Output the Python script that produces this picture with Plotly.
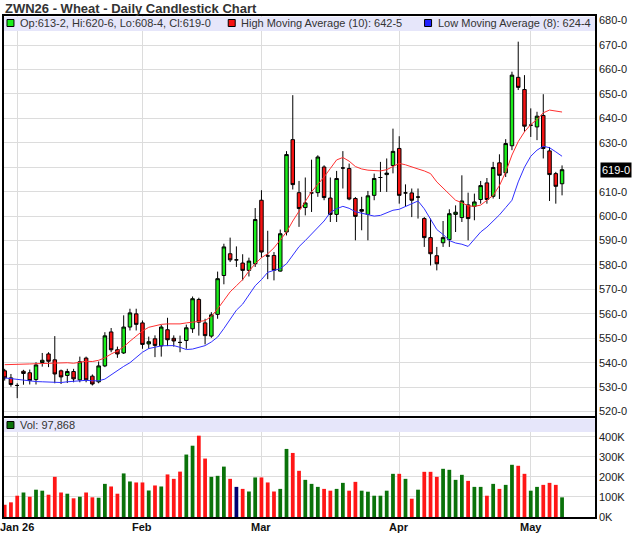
import plotly.graph_objects as go

# ZWN26 daily bars, 30 Dec 2025 .. 8 May 2026 (one entry per trading day)
opens = [
    536.7, 533.8, 530.7, 536.5, 535.9, 533.1, 540.1, 543.6, 541.2, 536.7,
    534.8, 536.4, 533.0, 541.9, 534.5, 532.2, 538.7, 552.6, 545.3, 544.0,
    554.6, 560.0, 556.3, 547.7, 549.8, 546.9, 553.5, 550.0, 548.3, 549.1,
    553.9, 565.9, 556.3, 550.9, 559.8, 575.7, 584.6, 582.1, 580.8, 577.8,
    580.5, 606.5, 583.7, 583.9, 577.5, 593.5, 631.3, 609.6, 603.5, 609.5,
    609.6, 620.1, 607.4, 600.7, 619.7, 619.5, 607.2, 602.7, 600.7, 608.5,
    615.8, 617.0, 620.7, 627.7, 609.5, 609.5, 607.8, 599.0, 591.2, 583.8,
    589.1, 590.4, 600.7, 599.4, 604.6, 604.0, 606.8, 613.6, 608.1, 621.8,
    617.7, 628.8, 656.8, 651.8, 637.2, 636.5, 641.2, 626.7, 617.4, 613.25,
]
highs = [
    537.5, 535.4, 531.6, 537.1, 537.2, 540.2, 544.0, 544.3, 550.9, 537.2,
    537.5, 537.5, 542.5, 542.5, 535.2, 540.5, 552.5, 554.2, 546.6, 559.4,
    562.1, 562.1, 557.3, 550.7, 551.2, 555.5, 558.4, 551.2, 551.1, 555.6,
    567.1, 566.6, 558.0, 560.7, 577.3, 588.7, 591.2, 587.6, 584.4, 583.0,
    603.3, 610.6, 594.0, 585.3, 594.5, 626.6, 649.5, 614.4, 615.8, 623.1,
    624.9, 620.8, 615.8, 618.5, 626.6, 621.5, 607.8, 607.9, 610.3, 617.4,
    622.2, 623.6, 635.8, 632.7, 613.0, 611.3, 611.3, 599.6, 599.0, 587.4,
    598.0, 602.8, 604.4, 616.7, 609.6, 609.2, 614.4, 615.6, 622.2, 625.3,
    631.5, 659.1, 671.4, 657.7, 644.1, 642.7, 649.9, 628.3, 618.1, 620.75,
]
lows = [
    532.7, 530.2, 525.5, 531.0, 531.1, 531.1, 538.4, 538.2, 531.6, 531.3,
    531.7, 532.0, 532.0, 532.0, 530.7, 531.6, 538.2, 544.3, 542.0, 543.6,
    553.2, 553.2, 545.7, 545.7, 542.3, 542.5, 546.8, 546.6, 544.3, 545.7,
    552.2, 551.1, 547.5, 550.2, 558.0, 572.1, 581.2, 579.2, 573.7, 575.3,
    579.2, 583.0, 574.2, 573.7, 577.3, 592.1, 610.9, 595.6, 600.3, 601.7,
    607.9, 606.5, 597.6, 597.6, 611.3, 606.5, 590.1, 594.2, 590.1, 606.5,
    609.9, 609.9, 617.5, 605.1, 603.8, 599.6, 599.0, 587.4, 579.8, 577.8,
    587.4, 587.4, 593.5, 597.6, 590.1, 598.3, 605.1, 605.1, 607.2, 607.0,
    616.0, 627.0, 651.6, 634.5, 632.4, 631.1, 623.6, 606.2, 605.1, 608.5,
]
closes = [
    533.8, 531.1, 530.7, 535.6, 532.7, 539.1, 541.0, 540.6, 535.4, 534.2,
    536.4, 533.4, 540.4, 533.0, 531.3, 538.7, 551.0, 545.3, 543.6, 554.6,
    560.4, 555.7, 547.5, 548.6, 547.1, 554.6, 549.4, 548.9, 548.3, 554.3,
    566.2, 556.6, 551.1, 559.6, 574.4, 587.4, 582.1, 582.1, 577.8, 581.6,
    598.6, 585.3, 583.7, 577.8, 592.8, 625.2, 612.9, 603.1, 605.4, 609.5,
    624.2, 607.6, 600.7, 615.4, 619.7, 607.0, 599.9, 602.0, 608.3, 615.4,
    615.8, 617.6, 626.5, 608.5, 609.5, 606.5, 607.8, 591.2, 584.6, 580.5,
    591.2, 601.0, 601.6, 606.2, 599.0, 605.8, 612.5, 606.8, 619.9, 616.7,
    629.7, 657.7, 652.7, 636.8, 637.2, 640.9, 627.7, 617.0, 612.2, 619.0,
]
high_ma10 = [
    539.2, 539.2, 539.3, 539.5, 539.5, 539.6, 539.7, 539.8, 539.9, 540.0,
    540.0, 539.8, 540.3, 540.6, 540.5, 541.0, 542.0, 543.6, 544.8, 546.5,
    548.8, 551.0, 553.0, 554.5, 555.2, 555.7, 555.9, 555.9, 555.9, 556.3,
    556.5, 556.8, 557.2, 559.0, 562.0, 565.5, 569.0, 571.5, 574.0, 577.5,
    580.5, 583.0, 584.6, 587.0, 590.5, 593.5, 598.0, 602.0, 606.0, 610.0,
    613.0, 616.0, 619.5, 623.0, 624.0, 622.5, 620.3, 619.3, 618.8, 618.6,
    618.5, 619.0, 620.4, 621.6, 621.0, 620.0, 619.3, 618.5, 617.4, 614.0,
    611.5, 609.0, 606.5, 605.5, 604.2, 604.0, 604.5, 606.5, 608.5, 612.5,
    618.0, 625.0, 630.5, 634.5, 637.5, 639.5, 642.3, 643.4, 643.0, 642.6,
]
low_ma8 = [
    533.8, 533.5, 533.0, 532.7, 532.5, 532.3, 532.2, 532.0, 531.9, 531.9,
    532.2, 532.5, 532.7, 532.8, 532.6, 532.6, 533.3, 535.0, 537.0, 538.5,
    540.0, 542.0, 544.3, 545.8, 546.4, 546.9, 547.0, 547.0, 546.3, 545.4,
    545.6, 546.2, 547.0, 548.5, 550.5, 554.0, 558.0, 561.5, 564.0, 567.5,
    571.5, 574.0, 577.0, 577.8, 578.5, 580.5, 584.0, 587.5, 590.0, 592.8,
    595.5, 598.0, 601.5, 603.0, 604.0, 603.2, 601.8, 601.3, 600.5, 600.0,
    600.3, 601.5, 602.4, 602.8, 604.0, 605.2, 606.2, 603.0, 599.0, 594.5,
    592.5, 590.0, 589.0, 588.5, 587.6, 590.5, 593.5, 595.5, 598.0, 600.5,
    603.5, 606.5, 614.0, 620.0, 624.5, 627.0, 628.6, 628.0, 626.3, 624.5,
]
volume_k = [
    61, 73, 106, 122, 101, 136, 131, 111, 200, 122,
    116, 93, 101, 122, 98, 96, 165, 152, 116, 217,
    177, 172, 172, 132, 157, 152, 212, 190, 226, 311,
    355, 405, 291, 200, 205, 251, 190, 150, 140, 127,
    197, 197, 172, 127, 140, 339, 319, 230, 185, 165,
    150, 140, 131, 140, 170, 131, 175, 131, 126, 106,
    106, 131, 215, 215, 190, 91, 136, 225, 225, 200,
    240, 235, 185, 210, 180, 150, 150, 106, 165, 140,
    160, 260, 255, 215, 131, 150, 160, 170, 160, 97.868,
]
month_pos = [2, 22, 41, 63, 84]
month_labels = ["Jan 26", "Feb", "Mar", "Apr", "May"]
price_ticks = list(range(520, 690, 10))
vol_ticks = [0, 100, 200, 300, 400]

W, H = 640, 536
L, R, T, B = 2, 45, 16, 19
PW, PH = W - L - R, H - T - B
FONT = "Arial, Liberation Sans, sans-serif"


def px_x(x):
    return (x - L) / PW


def px_y(y):
    return (H - B - y) / PH


def fmt_price(p):
    whole = int(p)
    eighths = int(round((p - whole) * 8))
    return f"{whole}-{eighths}"


idx = list(range(len(closes)))
volume = [v * 1000 for v in volume_k]

vol_colors = []
for i, c in enumerate(closes):
    prev = closes[i - 1] if i > 0 else c + 1
    if c > prev:
        vol_colors.append("#0a720a")
    elif c < prev:
        vol_colors.append("#ff1616")
    else:
        vol_colors.append("#000070")

fig = go.Figure()
fig.add_trace(go.Candlestick(
    x=idx, open=opens, high=highs, low=lows, close=closes,
    increasing=dict(fillcolor="#1aee1a", line=dict(color="black", width=1)),
    decreasing=dict(fillcolor="#f51212", line=dict(color="black", width=1)),
    whiskerwidth=0, xaxis="x", yaxis="y", hoverinfo="skip",
))
fig.add_trace(go.Scatter(x=idx, y=high_ma10, mode="lines",
                         line=dict(color="#ff3030", width=1), hoverinfo="skip"))
fig.add_trace(go.Scatter(x=idx, y=low_ma8, mode="lines",
                         line=dict(color="#3030ff", width=1), hoverinfo="skip"))
fig.add_trace(go.Bar(x=idx, y=volume, marker=dict(color=vol_colors, line=dict(width=0)),
                     width=0.6, xaxis="x2", yaxis="y2", hoverinfo="skip"))

xrange = [-0.11, 94.26]
axis_common = dict(showline=True, linecolor="black", linewidth=1.5, mirror=True,
                   showgrid=True, gridcolor="#dcdcdc", gridwidth=1, zeroline=False)

fig.update_layout(
    width=W, height=H,
    margin=dict(l=L, r=R, t=T, b=B),
    paper_bgcolor="white", plot_bgcolor="white",
    font=dict(family=FONT, size=11, color="#222"),
    showlegend=False, hovermode=False, boxgap=0.2,
    xaxis=dict(range=xrange, domain=[0, 1], anchor="y", tickmode="array",
               tickvals=month_pos, showticklabels=False, ticks="",
               rangeslider=dict(visible=False), **axis_common),
    xaxis2=dict(range=xrange, domain=[0, 1], anchor="y2", tickmode="array",
                tickvals=month_pos, showticklabels=False, ticks="", **axis_common),
    yaxis=dict(domain=[px_y(416), 1], range=[518.2, 681.9], side="right", anchor="x",
               tickmode="array", tickvals=price_ticks,
               ticktext=["" if p == 620 else f"{p}-0" for p in price_ticks],
               ticks="", tickfont=dict(size=11, color="#222"), **axis_common),
    yaxis2=dict(domain=[0, px_y(418)], range=[0, 493000], side="right", anchor="x2",
                tickmode="array", tickvals=[v * 1000 for v in vol_ticks],
                ticktext=[f"{v}K" for v in vol_ticks],
                ticks="", tickfont=dict(size=11, color="#222"), **axis_common),
)

shapes = [
    # legend strips
    dict(type="rect", xref="paper", yref="paper", x0=0, x1=1, y0=px_y(31), y1=px_y(16.8),
         fillcolor="#e6e6fa", line=dict(width=0), layer="above"),
    dict(type="rect", xref="paper", yref="paper", x0=0, x1=1, y0=px_y(432), y1=px_y(418.8),
         fillcolor="#e6e6fa", line=dict(width=0), layer="above"),
]
for x0, y0, col in [(5, 19.5, "#1aee1a"), (227, 19.5, "#f51212"),
                    (424, 19.5, "#2020ff"), (5, 421.5, "#0a720a")]:
    shapes.append(dict(type="rect", xref="paper", yref="paper",
                       x0=px_x(x0), x1=px_x(x0 + 7), y0=px_y(y0 + 7), y1=px_y(y0),
                       fillcolor=col, line=dict(color="black", width=1), layer="above"))
fig.update_layout(shapes=shapes)

last = len(closes) - 1
ohlc_text = (f"Op:{fmt_price(opens[last])}, Hi:{fmt_price(highs[last])}, "
             f"Lo:{fmt_price(lows[last])}, Cl:{fmt_price(closes[last])}")
notes = [
    (1, 8.5, "<b>ZWN26 - Wheat - Daily Candlestick Chart</b>", 13, "#333"),
    (16, 23, ohlc_text, 11, "#333"),
    (238, 23, f"High Moving Average (10): {fmt_price(high_ma10[last])}", 11, "#333"),
    (435, 23, f"Low Moving Average (8): {fmt_price(low_ma8[last])}", 11, "#333"),
    (16, 425, f"Vol: {int(round(volume[last])):,}", 11, "#333"),
]
for x, y, text, size, col in notes:
    fig.add_annotation(xref="paper", yref="paper", x=px_x(x), y=px_y(y), text=text,
                       showarrow=False, xanchor="left", yanchor="middle",
                       font=dict(family=FONT, size=size, color=col))

# month labels under the volume panel
for pos, lab in zip(month_pos, month_labels):
    fig.add_annotation(xref="x2", yref="paper", x=pos, y=px_y(527), text=f"<b>{lab}</b>",
                       showarrow=False, xanchor="center", yanchor="middle",
                       font=dict(family=FONT, size=11, color="#111"))

# last-price marker on the price axis
fig.add_annotation(xref="paper", yref="y", x=px_x(600), y=closes[last], xanchor="left",
                   yanchor="middle", text=fmt_price(closes[last]),
                   showarrow=False, bgcolor="black", borderpad=1,
                   font=dict(family=FONT, size=11, color="white"))

# the page's default 8px body margin would push the chart off the window
fig.write_html("out.html", config={"displayModeBar": False},
               post_script="document.body.style.margin='0';")
